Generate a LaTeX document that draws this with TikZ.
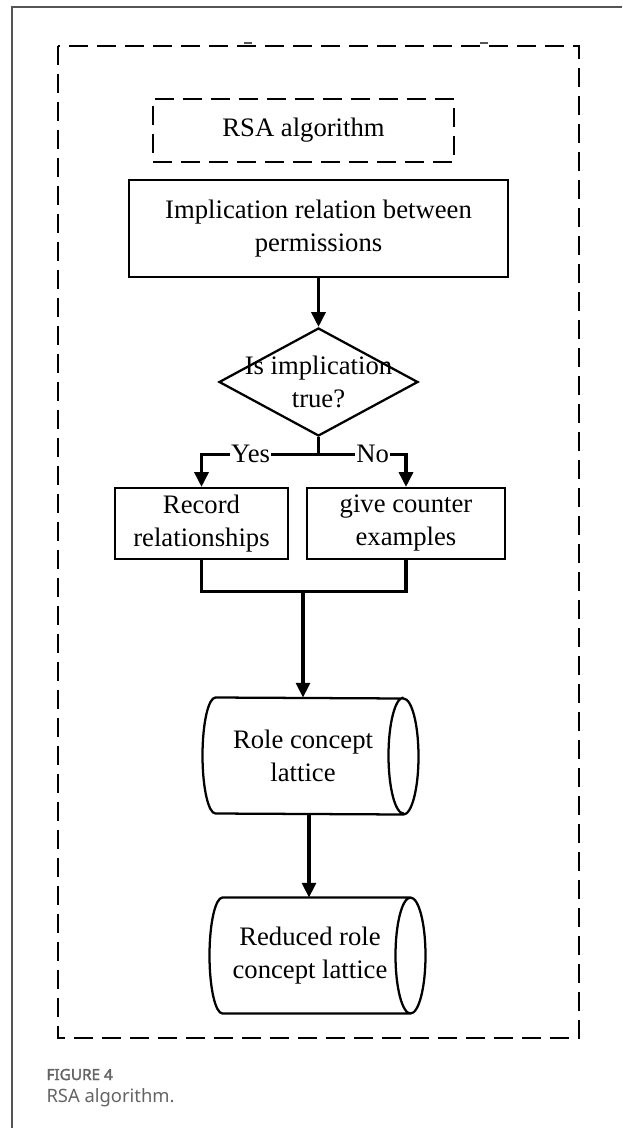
\documentclass[tikz,border=0pt]{standalone}
\usepackage{fontspec}
\setmainfont{Liberation Serif}
\newfontfamily\capfont{Noto Sans}
\newfontfamily\capboldfont{Noto Sans}[FakeBold=2.2]
\usetikzlibrary{shapes.geometric,arrows.meta}
\definecolor{capgray}{RGB}{100,100,100}
\definecolor{edgegray}{RGB}{85,85,85}

\tikzset{every picture/.style={line width=0.75pt}}
\tikzset{
  boxline/.style={line width=1.7pt},
  flowtext/.style={font=\fontsize{20}{24.75}\selectfont, align=center},
  flowbox/.style={draw, boxline, rectangle, inner sep=0pt, flowtext},
  dashbox/.style={line width=1.7pt, dash pattern=on 14pt off 7pt},
  flowline/.style={line width=2.3pt},
  flowarrow/.style={flowline, -{Triangle[length=11pt,width=10.5pt]}},
  branchlabel/.style={flowtext, fill=white, inner sep=1pt},
}

\begin{document}
\begin{tikzpicture}[x=0.75pt,y=0.75pt,yscale=-1,xscale=1]
\useasboundingbox (0,0) rectangle (622,1128);

% page edge
\draw [edgegray, line width=0.9pt] (12,1128) -- (12,7) -- (622,7) ;
% small marks above the frame
\draw [edgegray, line width=0.8pt] (244,43) -- (252,43) (480,43) -- (488,43) ;

% outer dashed frame
\draw [dashbox] (58,46) rectangle (579,1038) ;

% Text Node
\node (rsa) [flowtext, draw, dashbox, minimum width=225.75pt, minimum height=47.25pt, inner sep=0pt] at (303.5,130.5) {RSA algorithm};
% Text Node
\node (impl) [flowbox, minimum width=284.25pt, minimum height=72.75pt] at (318.5,228.5) {Implication relation between\\permissions};
% Decision
\node (test) [diamond, draw, boxline, minimum width=149.25pt, minimum height=81pt, inner sep=0pt,
  label={[flowtext]center:Is implication\\true?}] at (318.5,382) {};
% Text Node
\node (rec) [flowbox, minimum width=129.75pt, minimum height=53.25pt] at (201.5,523.5) {Record\\relationships};
% Text Node
\node (gce) [flowbox, minimum width=148.5pt, minimum height=53.25pt] at (406,523.5) {give counter\\examples};
% Stored data
\node (rcl) [flowtext, minimum width=150pt, minimum height=87pt, inner sep=0pt] at (303,756) {Role concept\\lattice};
\node (rrcl) [flowtext, minimum width=150pt, minimum height=86.25pt, inner sep=0pt] at (310,955.5) {Reduced role\\concept lattice};

% cylinder outlines
\foreach \c in {rcl,rrcl}
  \draw [boxline] ([xshift=9.75pt]\c.north west) arc [start angle=270, end angle=90, x radius=13, y radius=58]
    -- (\c.south east) arc [start angle=90, end angle=-90, x radius=15, y radius=58]
    -- cycle
    (\c.north east) arc [start angle=270, end angle=90, x radius=15, y radius=58] ;

% connectors
\draw [flowarrow] (impl.south) -- (test.north) ;
\draw [flowline] (test.south) -- ++(0,17) coordinate (fork) ;
\draw [flowarrow] (fork) -| (rec.north) node [branchlabel, pos=0.29] {Yes} ;
\draw [flowarrow] (fork) -| (gce.north) node [branchlabel, pos=0.31] {No} ;
\draw [flowline] (rec.south) -- ++(0,31) -| (gce.south) ;
\coordinate (join) at (303,590) ;
\draw [flowarrow] (join) -- (rcl.north) ;
\draw [flowarrow] ([xshift=4.5pt]rcl.south) -- ([xshift=4.5pt]rcl.south |- rrcl.north) ;

% caption
\node (fig) [anchor=base west, inner sep=0pt, text=capgray, font=\capboldfont\fontsize{11.5}{14}\selectfont] at (46,1080) {FIGURE 4};
\node (cap) [anchor=base west, inner sep=0pt, text=capgray, font=\capfont\fontsize{13.8}{17}\selectfont] at (46,1102) {RSA algorithm.};

\end{tikzpicture}
\end{document}
